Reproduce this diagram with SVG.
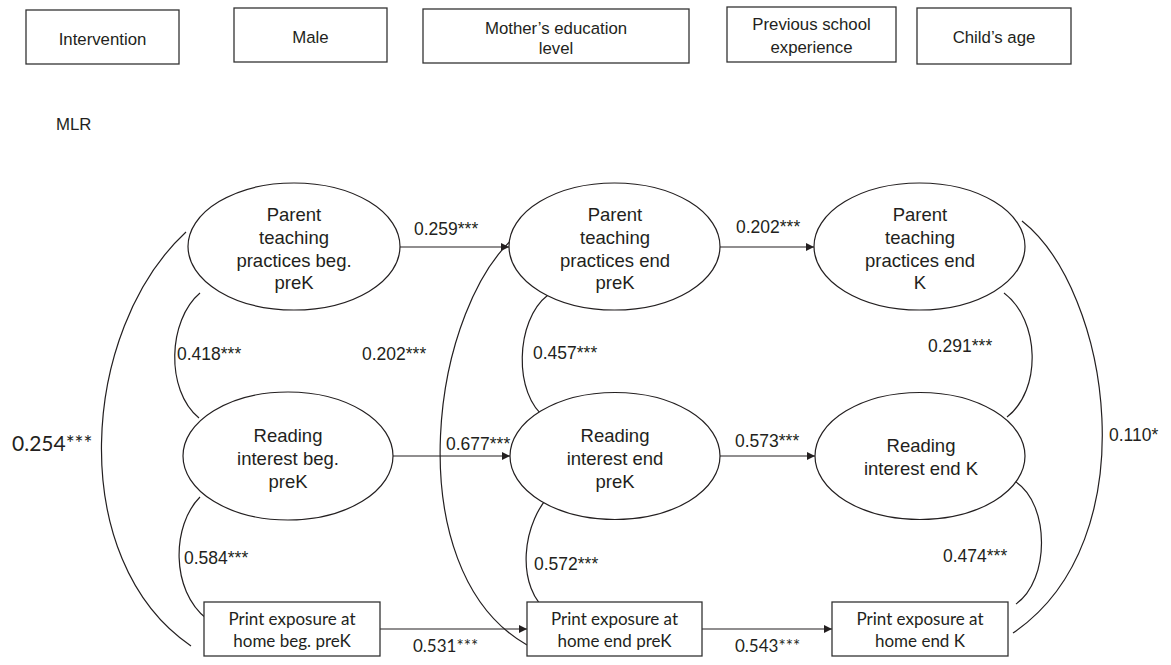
<svg xmlns="http://www.w3.org/2000/svg" width="1171" height="665" viewBox="0 0 1171 665">
<defs>
<style>
.bx{fill:#fff;stroke:#333;stroke-width:1.3}
.el{fill:#fff;stroke:#231f20;stroke-width:1.2}
.ln{fill:none;stroke:#231f20;stroke-width:1.2}
.t{font-family:"Liberation Sans",Arial,sans-serif;fill:#231f20;text-anchor:middle}
.top{font-size:16.8px}
.et{font-size:18.5px}
.lb{font-family:"Liberation Sans",Arial,sans-serif;fill:#231f20;font-size:17.5px}
.pt{font-family:Lato,"Open Sans",sans-serif;fill:#231f20;text-anchor:middle;font-size:17px}
.pl{font-family:Lato,"Open Sans",sans-serif;fill:#231f20;font-size:17px}
</style>
<marker id="ah" viewBox="0 0 10 10" refX="10" refY="5" markerWidth="9" markerHeight="8" markerUnits="userSpaceOnUse" orient="auto">
<path d="M0,0 L10,5 L0,10 z" fill="#231f20"/>
</marker>
</defs>
<rect width="1171" height="665" fill="#fff"/>

<g id="intervention"><rect class="bx" x="26" y="10" width="153" height="54"/><text class="t top" x="102.5" y="45">Intervention</text></g>
<g id="male"><rect class="bx" x="234" y="8" width="153" height="54"/><text class="t top" x="310.5" y="43">Male</text></g>
<g id="mother"><rect class="bx" x="423" y="9" width="266" height="54"/><text class="t top" x="556" y="34">Mother’s education</text><text class="t top" x="556" y="54">level</text></g>
<g id="previous"><rect class="bx" x="727" y="7" width="169" height="55"/><text class="t top" x="811.5" y="30">Previous school</text><text class="t top" x="811.5" y="53">experience</text></g>
<g id="age"><rect class="bx" x="917" y="8" width="154" height="56"/><text class="t top" x="994" y="43">Child’s age</text></g>

<text id="mlr" class="lb" x="56" y="130" style="font-size:16.8px">MLR</text>

<g id="connectors">
<path class="ln" d="M186,232 C80,330 65,560 191,646"/>
<path class="ln" d="M200,293 C168,320 165,390 199,418"/>
<path class="ln" d="M200,497 C172,525 170,590 207,619"/>
<path class="ln" d="M522,231 C430,300 395,570 527,645"/>
<path class="ln" d="M548,295 C515,320 513,395 546,418"/>
<path class="ln" d="M555,490 C520,520 515,590 550,613"/>
<path class="ln" d="M1004,293 C1040,320 1042,390 1007,417"/>
<path class="ln" d="M1016,482 C1050,505 1050,580 1016,604"/>
<path class="ln" d="M1022,221 C1110,290 1150,540 1013,633"/>
<line class="ln" x1="400" y1="247" x2="509" y2="247" marker-end="url(#ah)"/>
<line class="ln" x1="720" y1="247" x2="814" y2="247" marker-end="url(#ah)"/>
<line class="ln" x1="393" y1="456" x2="510" y2="456" marker-end="url(#ah)"/>
<line class="ln" x1="720" y1="456" x2="815" y2="456" marker-end="url(#ah)"/>
<line class="ln" x1="380" y1="629" x2="527" y2="629" marker-end="url(#ah)"/>
<line class="ln" x1="702" y1="629" x2="832" y2="629" marker-end="url(#ah)"/>
<text class="lb" x="414" y="235">0.259***</text>
<text class="lb" x="736" y="233">0.202***</text>
<text class="lb" x="177" y="360">0.418***</text>
<text class="lb" x="362" y="360">0.202***</text>
<text class="lb" x="533" y="359">0.457***</text>
<text class="lb" x="928" y="352">0.291***</text>
<text class="pl" x="12" y="451" style="font-size:21px">0.254***</text>
<text class="lb" x="446" y="450">0.677***</text>
<text class="lb" x="735" y="447">0.573***</text>
<text class="lb" x="1109" y="441">0.110*</text>
<text class="lb" x="184" y="564">0.584***</text>
<text class="lb" x="534" y="570">0.572***</text>
<text class="lb" x="943" y="562">0.474***</text>
<text class="pl" x="413" y="652">0.531***</text>
<text class="pl" x="735" y="652">0.543***</text>
</g>

<g id="ptp-beg"><ellipse class="el" cx="294" cy="246.5" rx="106" ry="63.5"/><text class="t et" x="294" y="221">Parent</text><text class="t et" x="294" y="244">teaching</text><text class="t et" x="294" y="267">practices beg.</text><text class="t et" x="294" y="289">preK</text></g>
<g id="ptp-endprek"><ellipse class="el" cx="614.5" cy="246.5" rx="105.5" ry="63.5"/><text class="t et" x="615" y="221">Parent</text><text class="t et" x="615" y="244">teaching</text><text class="t et" x="615" y="267">practices end</text><text class="t et" x="615" y="289">preK</text></g>
<g id="ptp-endk"><ellipse class="el" cx="919.5" cy="246.5" rx="105.5" ry="63.5"/><text class="t et" x="920" y="221">Parent</text><text class="t et" x="920" y="244">teaching</text><text class="t et" x="920" y="267">practices end</text><text class="t et" x="920" y="289">K</text></g>

<g id="ri-beg"><ellipse class="el" cx="288" cy="456" rx="105" ry="64"/><text class="t et" x="288" y="442">Reading</text><text class="t et" x="288" y="465">interest beg.</text><text class="t et" x="288" y="488">preK</text></g>
<g id="ri-endprek"><ellipse class="el" cx="615" cy="456" rx="105" ry="63.5"/><text class="t et" x="615" y="442">Reading</text><text class="t et" x="615" y="465">interest end</text><text class="t et" x="615" y="488">preK</text></g>
<g id="ri-endk"><ellipse class="el" cx="920" cy="456" rx="105" ry="63.5"/><text class="t et" x="921" y="452">Reading</text><text class="t et" x="921" y="475">interest end K</text></g>

<g id="pe-beg"><rect class="bx" x="204" y="602" width="176" height="54"/><text class="pt" x="292" y="625">Print exposure at</text><text class="pt" x="292" y="647">home beg. preK</text></g>
<g id="pe-endprek"><rect class="bx" x="527" y="602" width="175" height="54"/><text class="pt" x="614.5" y="625">Print exposure at</text><text class="pt" x="614.5" y="647">home end preK</text></g>
<g id="pe-endk"><rect class="bx" x="832" y="602" width="176" height="54"/><text class="pt" x="920" y="625">Print exposure at</text><text class="pt" x="920" y="647">home end K</text></g>
</svg>
